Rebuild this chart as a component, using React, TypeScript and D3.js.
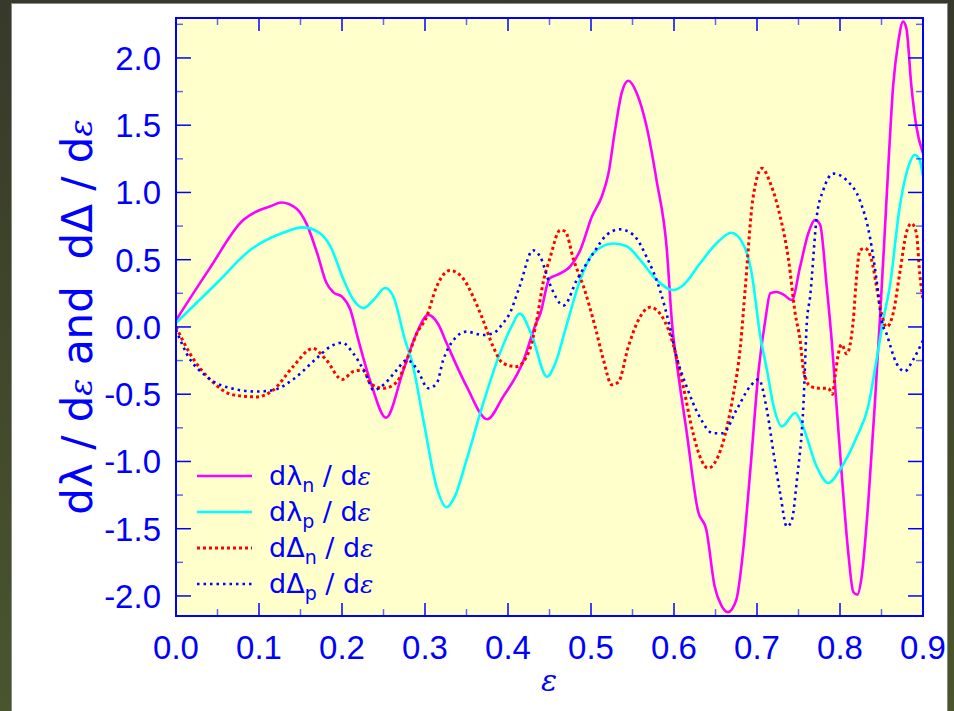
import React from "react";
import * as d3 from "d3";

const W = 954;
const H = 711;
const M = { left: 176, right: 923, top: 18, bottom: 616 };
const BLUE = "#0000ff";

// [epsilon, value]
const lambdaN = [
  [0, 0.05], [0.04, 0.43], [0.081, 0.795], [0.101, 0.87], [0.113, 0.895], [0.127, 0.925], [0.145, 0.88],
  [0.157, 0.77], [0.17, 0.55], [0.181, 0.33], [0.19, 0.255], [0.2, 0.225], [0.21, 0.13],
  [0.219, -0.08], [0.235, -0.42], [0.253, -0.674], [0.274, -0.32], [0.29, -0.045], [0.304, 0.09],
  [0.316, 0.02], [0.326, -0.12], [0.35, -0.44], [0.375, -0.686], [0.394, -0.52], [0.418, -0.26],
  [0.434, 0.03], [0.439, 0.1], [0.45, 0.36], [0.459, 0.387], [0.475, 0.45], [0.487, 0.57],
  [0.501, 0.82], [0.513, 0.97], [0.521, 1.14], [0.529, 1.465], [0.537, 1.74], [0.545, 1.83],
  [0.555, 1.74], [0.567, 1.49], [0.579, 1.09], [0.591, 0.6], [0.598, 0.0], [0.604, -0.3],
  [0.615, -0.77], [0.629, -1.37], [0.639, -1.51], [0.649, -1.93], [0.657, -2.07], [0.665, -2.12],
  [0.675, -2.03], [0.683, -1.68], [0.692, -1.06], [0.702, -0.32], [0.71, 0.05], [0.716, 0.25],
  [0.724, 0.26], [0.732, 0.24], [0.742, 0.2], [0.752, 0.45], [0.762, 0.7], [0.77, 0.795],
  [0.776, 0.76], [0.784, 0.3], [0.79, -0.1], [0.796, -0.6], [0.802, -1.09], [0.81, -1.68],
  [0.816, -1.97], [0.821, -1.99], [0.826, -1.86], [0.834, -1.31], [0.842, -0.57], [0.848, 0.05],
  [0.853, 0.6], [0.858, 1.17], [0.864, 1.79], [0.87, 2.11], [0.876, 2.27], [0.88, 2.22],
  [0.886, 1.79], [0.892, 1.49], [0.9, 1.29],
];

const lambdaP = [
  [0, 0.03], [0.049, 0.325], [0.089, 0.57], [0.129, 0.7], [0.153, 0.74], [0.17, 0.71],
  [0.186, 0.6], [0.202, 0.35], [0.214, 0.2], [0.226, 0.14], [0.238, 0.2], [0.252, 0.29],
  [0.262, 0.225], [0.276, -0.1], [0.284, -0.25], [0.298, -0.69], [0.314, -1.19], [0.326, -1.34],
  [0.336, -1.26], [0.35, -0.99], [0.37, -0.57], [0.39, -0.2], [0.404, 0.0], [0.414, 0.1],
  [0.428, -0.05], [0.447, -0.37], [0.457, -0.27], [0.47, 0.0], [0.487, 0.35], [0.503, 0.55],
  [0.527, 0.62], [0.543, 0.6], [0.559, 0.5], [0.579, 0.35], [0.599, 0.275], [0.611, 0.31],
  [0.631, 0.47], [0.651, 0.62], [0.669, 0.7], [0.683, 0.62], [0.693, 0.42], [0.704, -0.07],
  [0.712, -0.32], [0.72, -0.59], [0.73, -0.74], [0.746, -0.64], [0.754, -0.72], [0.772, -1.04],
  [0.786, -1.16], [0.8, -1.06], [0.82, -0.82], [0.834, -0.59], [0.844, -0.245], [0.852, 0.05],
  [0.86, 0.3], [0.872, 0.895], [0.884, 1.22], [0.89, 1.28], [0.896, 1.24], [0.9, 1.12],
];

const deltaN = [
  [0, 0], [0.017, -0.2], [0.041, -0.39], [0.069, -0.505], [0.097, -0.52], [0.117, -0.47],
  [0.141, -0.295], [0.165, -0.16], [0.181, -0.245], [0.2, -0.39], [0.214, -0.33], [0.226, -0.32],
  [0.234, -0.42], [0.25, -0.456], [0.266, -0.41], [0.278, -0.245], [0.29, -0.05], [0.302, 0.077],
  [0.314, 0.3], [0.33, 0.42], [0.346, 0.36], [0.358, 0.225], [0.37, 0.05], [0.382, -0.146],
  [0.394, -0.27], [0.41, -0.295], [0.426, -0.17], [0.434, 0.03], [0.443, 0.35], [0.45, 0.5],
  [0.463, 0.72], [0.469, 0.71], [0.479, 0.5], [0.491, 0.3], [0.505, 0.0], [0.515, -0.245],
  [0.525, -0.43], [0.533, -0.41], [0.545, -0.146], [0.557, 0.05], [0.571, 0.146], [0.583, 0.1],
  [0.595, -0.05], [0.611, -0.44], [0.623, -0.79], [0.633, -0.99], [0.641, -1.05], [0.651, -0.99],
  [0.661, -0.815], [0.671, -0.52], [0.68, -0.146], [0.686, 0.3], [0.695, 0.95], [0.706, 1.18],
  [0.716, 1.07], [0.728, 0.82], [0.738, 0.5], [0.746, 0.1], [0.752, -0.1], [0.756, -0.32],
  [0.764, -0.44], [0.776, -0.456], [0.786, -0.456], [0.791, -0.5], [0.794, -0.37], [0.798, -0.2],
  [0.802, -0.13], [0.808, -0.2], [0.816, 0.05], [0.819, 0.3], [0.824, 0.57], [0.83, 0.585],
  [0.838, 0.5], [0.844, 0.3], [0.85, 0.1], [0.856, 0.0], [0.864, 0.1], [0.872, 0.4],
  [0.88, 0.7], [0.886, 0.77], [0.892, 0.7], [0.896, 0.4], [0.9, 0.2],
];

const deltaP = [
  [0, -0.02], [0.013, -0.2], [0.037, -0.37], [0.069, -0.46], [0.097, -0.48], [0.117, -0.47],
  [0.141, -0.39], [0.17, -0.23], [0.186, -0.146], [0.2, -0.117], [0.214, -0.2], [0.23, -0.37],
  [0.238, -0.47], [0.25, -0.43], [0.266, -0.32], [0.278, -0.245], [0.29, -0.31], [0.304, -0.456],
  [0.314, -0.42], [0.322, -0.245], [0.334, -0.1], [0.35, -0.035], [0.37, -0.06], [0.382, -0.047],
  [0.394, 0.027], [0.402, 0.1], [0.414, 0.3], [0.43, 0.57], [0.439, 0.52], [0.45, 0.325],
  [0.467, 0.16], [0.483, 0.35], [0.503, 0.55], [0.519, 0.685], [0.535, 0.726], [0.551, 0.685],
  [0.567, 0.52], [0.583, 0.275], [0.595, 0.0], [0.603, -0.22], [0.615, -0.44], [0.631, -0.67],
  [0.647, -0.79], [0.659, -0.79], [0.675, -0.62], [0.692, -0.44], [0.702, -0.39], [0.712, -0.62],
  [0.72, -0.94], [0.728, -1.24], [0.736, -1.485], [0.742, -1.435], [0.748, -1.14], [0.756, -0.57],
  [0.76, 0.03], [0.764, 0.225], [0.772, 0.82], [0.78, 1.02], [0.792, 1.14], [0.808, 1.09],
  [0.824, 0.94], [0.836, 0.67], [0.844, 0.35], [0.85, 0.05], [0.856, -0.05], [0.868, -0.27],
  [0.878, -0.33], [0.888, -0.245], [0.9, -0.1],
];

const xTicks = [0, 0.1, 0.2, 0.3, 0.4, 0.5, 0.6, 0.7, 0.8, 0.9];
const yTicks = [-2, -1.5, -1, -0.5, 0, 0.5, 1, 1.5, 2];

const series = [
  { key: "n", sym: "λ", data: lambdaN, color: "#ff00ff", dash: null, width: 2.6 },
  { key: "p", sym: "λ", data: lambdaP, color: "#00ffff", dash: null, width: 2.6 },
  { key: "n", sym: "Δ", data: deltaN, color: "#ff0000", dash: "3,3", width: 3 },
  { key: "p", sym: "Δ", data: deltaP, color: "#0000ff", dash: "2.5,4", width: 2.6 },
];

const SANS = "'Liberation Sans', Arial, sans-serif";
const LABEL = "'DejaVu Sans', sans-serif";
const EPS = "'DejaVu Serif', serif";

export default function App() {
  const x = d3.scaleLinear().domain([0, 0.9]).range([M.left, M.right]);
  const y = d3.scaleLinear().domain([-2.149, 2.297]).range([M.bottom, M.top]);
  const line = d3
    .line<number[]>()
    .x((d) => x(d[0]))
    .y((d) => y(d[1]))
    .curve(d3.curveMonotoneX);

  const xMinor = d3.range(0.05, 0.9, 0.1);
  const yMinor = d3.range(-1.75, 2.3, 0.5);
  const pw = M.right - M.left;
  const ph = M.bottom - M.top;

  return (
    <svg
      width={W}
      height={H}
      style={{ position: "fixed", left: 0, top: 0 }}
    >
      <defs>
        <linearGradient id="bg" x1="0" y1="0" x2="0" y2="1">
          <stop offset="0" stopColor="#37392a" />
          <stop offset="1" stopColor="#4a552e" />
        </linearGradient>
        <clipPath id="plot">
          <rect x={M.left} y={M.top} width={pw} height={ph} />
        </clipPath>
      </defs>
      <rect width={W} height={H} fill="url(#bg)" />
      <rect x={11.5} y={3.5} width={936} height={720} fill="#ffffff" stroke="#888" strokeWidth={1} />
      <rect x={M.left} y={M.top} width={pw} height={ph} fill="#ffffcc" />

      <g clipPath="url(#plot)" fill="none">
        {series.map((s, i) => (
          <path
            key={i}
            d={line(s.data) || ""}
            stroke={s.color}
            strokeWidth={s.width}
            strokeDasharray={s.dash || undefined}
            strokeLinejoin="round"
          />
        ))}
      </g>

      {/* ticks */}
      <g stroke={BLUE} strokeWidth={1.5}>
        {xTicks.map((t) => (
          <g key={"x" + t}>
            <line x1={x(t)} x2={x(t)} y1={M.bottom} y2={M.bottom - 13} />
            <line x1={x(t)} x2={x(t)} y1={M.top} y2={M.top + 13} />
          </g>
        ))}
        {xMinor.map((t) => (
          <g key={"xm" + t} strokeOpacity={0.6}>
            <line x1={x(t)} x2={x(t)} y1={M.bottom} y2={M.bottom - 7} />
            <line x1={x(t)} x2={x(t)} y1={M.top} y2={M.top + 7} />
          </g>
        ))}
        {yTicks.map((t) => (
          <g key={"y" + t}>
            <line x1={M.left} x2={M.left + 15} y1={y(t)} y2={y(t)} />
            <line x1={M.right} x2={M.right - 15} y1={y(t)} y2={y(t)} />
          </g>
        ))}
        {yMinor.map((t) => (
          <g key={"ym" + t} strokeOpacity={0.6}>
            <line x1={M.left} x2={M.left + 7} y1={y(t)} y2={y(t)} />
            <line x1={M.right} x2={M.right - 7} y1={y(t)} y2={y(t)} />
          </g>
        ))}
      </g>
      <rect x={M.left} y={M.top} width={pw} height={ph} fill="none" stroke={BLUE} strokeWidth={2} />

      {/* tick labels */}
      <g fill={BLUE} fontFamily={SANS} fontSize={33}>
        {xTicks.map((t) => (
          <text key={"xl" + t} x={x(t)} y={659} textAnchor="middle">
            {t.toFixed(1)}
          </text>
        ))}
        {yTicks.map((t) => (
          <text key={"yl" + t} x={161} y={y(t) + 12} textAnchor="end">
            {t.toFixed(1)}
          </text>
        ))}
      </g>

      {/* axis titles */}
      <text x={549} y={691} textAnchor="middle" fill={BLUE} fontFamily={EPS} fontStyle="italic" fontSize={30}>
        ε
      </text>
      <text
        transform={`translate(92,${(M.top + M.bottom) / 2}) rotate(-90)`}
        textAnchor="middle"
        fill={BLUE}
        fontFamily={LABEL}
        fontSize={42}
        xmlSpace="preserve"
      >
        dλ / d<tspan fontFamily={EPS} fontStyle="italic" fontSize={32}>ε</tspan> and  dΔ / d
        <tspan fontFamily={EPS} fontStyle="italic" fontSize={32}>ε</tspan>
      </text>

      {/* legend */}
      <g>
        {series.map((s, i) => {
          const ly = 476 + i * 36;
          return (
            <g key={"lg" + i}>
              <line
                x1={197}
                x2={252}
                y1={ly}
                y2={ly}
                stroke={s.color}
                strokeWidth={s.width}
                strokeDasharray={s.dash || undefined}
              />
              <text x={269} y={ly + 9} fill={BLUE} fontFamily={LABEL} fontSize={27}>
                d{s.sym}
                <tspan fontSize={19} dy={7}>{s.key}</tspan>
                <tspan dy={-7}> / d</tspan>
                <tspan fontFamily={EPS} fontStyle="italic" fontSize={25}>ε</tspan>
              </text>
            </g>
          );
        })}
      </g>
    </svg>
  );
}
